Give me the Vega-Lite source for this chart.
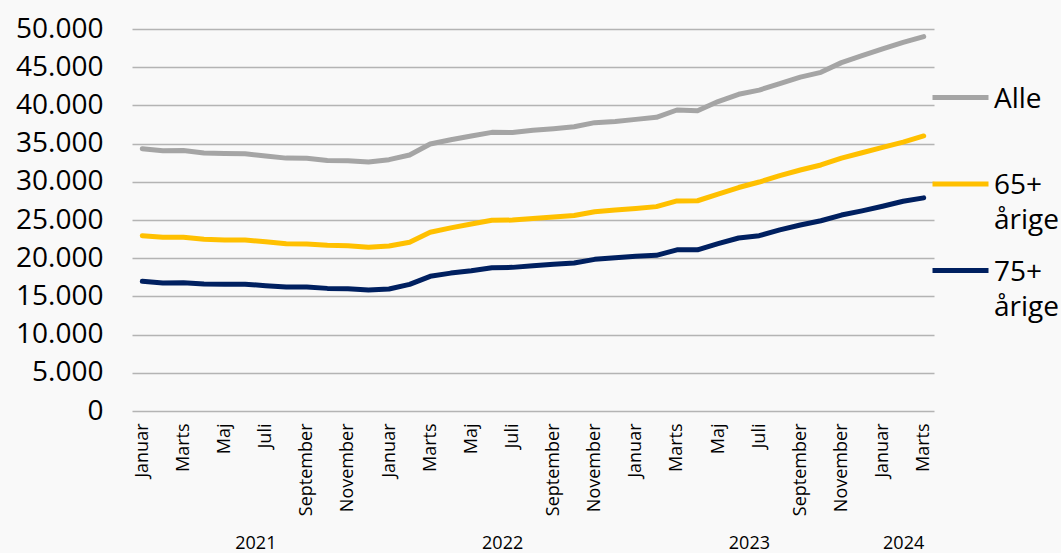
{
  "$schema": "https://vega.github.io/schema/vega-lite/v6.json",
  "width": 802,
  "height": 382,
  "autosize": {"type": "none"},
  "padding": {"left": 132, "top": 29, "right": 127, "bottom": 142},
  "background": "#F9F9F9",
  "config": {"view": {"stroke": null}, "font": "Open Sans"},
  "data": {
    "values": [
      {"maaned": "2021-01", "Alle": 34330, "65+ årige": 22950, "75+ årige": 16970},
      {"maaned": "2021-02", "Alle": 34070, "65+ årige": 22730, "75+ årige": 16750},
      {"maaned": "2021-03", "Alle": 34100, "65+ årige": 22750, "75+ årige": 16800},
      {"maaned": "2021-04", "Alle": 33770, "65+ årige": 22470, "75+ årige": 16620},
      {"maaned": "2021-05", "Alle": 33700, "65+ årige": 22380, "75+ årige": 16600},
      {"maaned": "2021-06", "Alle": 33680, "65+ årige": 22370, "75+ årige": 16600},
      {"maaned": "2021-07", "Alle": 33380, "65+ årige": 22160, "75+ årige": 16400},
      {"maaned": "2021-08", "Alle": 33100, "65+ årige": 21900, "75+ årige": 16230},
      {"maaned": "2021-09", "Alle": 33080, "65+ årige": 21860, "75+ årige": 16220},
      {"maaned": "2021-10", "Alle": 32800, "65+ årige": 21680, "75+ årige": 16050},
      {"maaned": "2021-11", "Alle": 32770, "65+ årige": 21640, "75+ årige": 16000},
      {"maaned": "2021-12", "Alle": 32600, "65+ årige": 21420, "75+ årige": 15840},
      {"maaned": "2022-01", "Alle": 32900, "65+ årige": 21600, "75+ årige": 15970},
      {"maaned": "2022-02", "Alle": 33500, "65+ årige": 22080, "75+ årige": 16580},
      {"maaned": "2022-03", "Alle": 34950, "65+ årige": 23390, "75+ årige": 17630},
      {"maaned": "2022-04", "Alle": 35500, "65+ årige": 23970, "75+ årige": 18050},
      {"maaned": "2022-05", "Alle": 36000, "65+ årige": 24480, "75+ årige": 18370},
      {"maaned": "2022-06", "Alle": 36470, "65+ årige": 24960, "75+ årige": 18760},
      {"maaned": "2022-07", "Alle": 36450, "65+ årige": 24990, "75+ årige": 18800},
      {"maaned": "2022-08", "Alle": 36740, "65+ årige": 25200, "75+ årige": 19020},
      {"maaned": "2022-09", "Alle": 36950, "65+ årige": 25400, "75+ årige": 19200},
      {"maaned": "2022-10", "Alle": 37200, "65+ årige": 25600, "75+ årige": 19370},
      {"maaned": "2022-11", "Alle": 37740, "65+ årige": 26090, "75+ årige": 19850},
      {"maaned": "2022-12", "Alle": 37900, "65+ årige": 26300, "75+ årige": 20070},
      {"maaned": "2023-01", "Alle": 38170, "65+ årige": 26500, "75+ årige": 20250},
      {"maaned": "2023-02", "Alle": 38440, "65+ årige": 26750, "75+ årige": 20380},
      {"maaned": "2023-03", "Alle": 39400, "65+ årige": 27500, "75+ årige": 21100},
      {"maaned": "2023-04", "Alle": 39300, "65+ årige": 27520, "75+ årige": 21100},
      {"maaned": "2023-05", "Alle": 40500, "65+ årige": 28380, "75+ årige": 21900},
      {"maaned": "2023-06", "Alle": 41450, "65+ årige": 29250, "75+ årige": 22640},
      {"maaned": "2023-07", "Alle": 42000, "65+ årige": 29970, "75+ årige": 22950},
      {"maaned": "2023-08", "Alle": 42850, "65+ årige": 30800, "75+ årige": 23700},
      {"maaned": "2023-09", "Alle": 43700, "65+ årige": 31540, "75+ årige": 24350},
      {"maaned": "2023-10", "Alle": 44330, "65+ årige": 32200, "75+ årige": 24900},
      {"maaned": "2023-11", "Alle": 45600, "65+ årige": 33100, "75+ årige": 25650},
      {"maaned": "2023-12", "Alle": 46500, "65+ årige": 33800, "75+ årige": 26200},
      {"maaned": "2024-01", "Alle": 47400, "65+ årige": 34500, "75+ årige": 26800},
      {"maaned": "2024-02", "Alle": 48250, "65+ årige": 35200, "75+ årige": 27450},
      {"maaned": "2024-03", "Alle": 49000, "65+ årige": 36000, "75+ årige": 27900}
    ]
  },
  "transform": [
    {"fold": ["Alle", "65+ årige", "75+ årige"], "as": ["gruppe", "antal"]}
  ],
  "layer": [
    {
      "mark": {"type": "line", "strokeWidth": 5, "strokeCap": "round", "strokeJoin": "round"},
      "encoding": {
        "x": {
          "field": "maaned",
          "type": "ordinal",
          "sort": null,
          "scale": {"type": "point", "padding": 0.5},
          "axis": {
            "orient": "bottom",
            "title": null,
            "values": ["2021-01","2021-03","2021-05","2021-07","2021-09","2021-11","2022-01","2022-03","2022-05","2022-07","2022-09","2022-11","2023-01","2023-03","2023-05","2023-07","2023-09","2023-11","2024-01","2024-03"],
            "labelExpr": "['Januar','Februar','Marts','April','Maj','Juni','Juli','August','September','Oktober','November','December'][toNumber(substring(datum.value,5,7))-1]",
            "labelAngle": -90,
            "labelAlign": "right",
            "labelBaseline": "middle",
            "labelPadding": 12,
            "labelFontSize": 18,
            "labelFont": "Open Sans",
            "labelColor": "#000000",
            "ticks": false,
            "domain": false,
            "grid": false
          }
        },
        "y": {
          "field": "antal",
          "type": "quantitative",
          "scale": {"domain": [0, 50000], "nice": false},
          "axis": {
            "title": null,
            "values": [0, 5000, 10000, 15000, 20000, 25000, 30000, 35000, 40000, 45000, 50000],
            "labelExpr": "replace(format(datum.value, ','), ',', '.')",
            "labelFontSize": 28,
            "labelFont": "Open Sans",
            "labelColor": "#000000",
            "labelPadding": 29,
            "ticks": false,
            "domain": false,
            "grid": true,
            "gridColor": "#B4B4B4",
            "gridWidth": 1.5
          }
        },
        "color": {
          "field": "gruppe",
          "type": "nominal",
          "scale": {"domain": ["Alle", "65+ årige", "75+ årige"], "range": ["#A5A5A5", "#FFC000", "#002060"]},
          "legend": {
            "title": null,
            "orient": "none",
            "legendX": 798,
            "legendY": 38,
            "symbolType": "stroke",
            "symbolSize": 3136,
            "symbolStrokeWidth": 5,
            "labelFontSize": 28,
            "labelFont": "Open Sans",
            "labelColor": "#000000",
            "labelOffset": 3,
            "labelBaseline": "alphabetic",
            "labelLimit": 200,
            "gridAlign": "all",
            "rowPadding": 4.5,
            "labelExpr": "datum.label == 'Alle' ? datum.label : split(datum.label, ' ')",
            "encode": {
              "labels": {"update": {"dy": {"value": 10}, "lineHeight": {"value": 35}}}
            }
          }
        }
      }
    },
    {
      "mark": {"type": "rule", "opacity": 0},
      "encoding": {
        "x": {
          "field": "maaned",
          "type": "ordinal",
          "sort": null,
          "axis": {
            "orient": "bottom",
            "title": null,
            "values": ["2021-07", "2022-07", "2023-07", "2024-02"],
            "labelExpr": "substring(datum.value, 0, 4)",
            "labelOffset": {"condition": {"test": "datum.value == '2024-02'", "value": 0}, "value": -10.3},
            "labelAngle": 0,
            "labelAlign": "center",
            "labelBaseline": "alphabetic",
            "labelPadding": 137,
            "labelFontSize": 18,
            "labelFont": "Open Sans",
            "labelColor": "#000000",
            "ticks": false,
            "domain": false,
            "grid": false
          }
        }
      }
    }
  ],
  "resolve": {"axis": {"x": "independent"}}
}
